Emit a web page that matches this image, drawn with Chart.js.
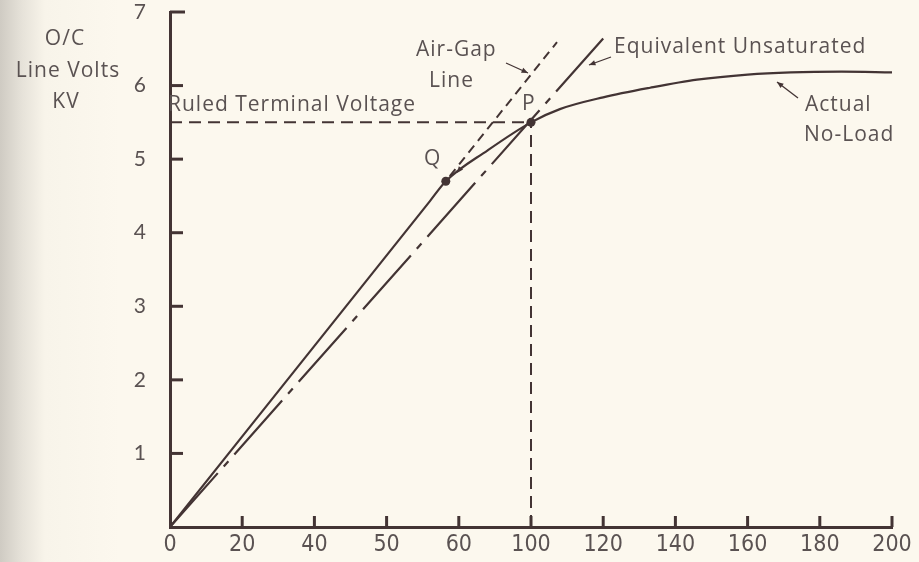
<!DOCTYPE html>
<html>
<head>
<meta charset="utf-8">
<script src="https://cdn.jsdelivr.net/npm/chart.js@4/dist/chart.umd.min.js"></script>
<style>
  html, body { margin: 0; padding: 0; }
  body {
    width: 919px; height: 562px; overflow: hidden;
    background: linear-gradient(to right, #cfcbc3 0px, #e6e2d9 22px, #f8f4ea 45px, #fcf8ee 120px, #fcf8ee 100%);
  }
  canvas { display: block; }
</style>
</head>
<body>
<canvas id="myChart" width="919" height="562"></canvas>
<script>
// tick labels as printed (the x labels are not evenly numbered in the original)
const xTickLabels = ['0', '20', '40', '50', '60', '100', '120', '140', '160', '180', '200'];
const yTickLabels = ['', '1', '2', '3', '4', '5', '6', '7'];

// actual no-load curve
const noLoadX = [0, 72, 76.4, 88, 100, 108, 120, 133, 146, 160, 172, 186, 200];
const noLoadY = [0, 4.43, 4.70, 5.12, 5.50, 5.68, 5.84, 5.97, 6.08, 6.15, 6.18, 6.19, 6.18];

// air-gap line (extension of the straight part)
const airGapX = [77.5, 107.2];
const airGapY = [4.77, 6.59];

// equivalent unsaturated line through P
const equivX = [0, 120];
const equivY = [0, 6.64];

// rated terminal voltage guide lines
const ruledX = [0, 100];
const ruledY = [5.5, 5.5];
const vertX = [100, 100];
const vertY = [0, 5.5];

// points Q and P
const markX = [76.4, 100];
const markY = [4.70, 5.50];

const ink = '#433434';
const textCol = '#5a5252';

function pts(xs, ys) {
  return xs.map((x, i) => ({ x: x, y: ys[i] }));
}

const ctx = document.getElementById('myChart');

const insideTicks = {
  id: 'insideTicks',
  afterDraw(chart) {
    const c = chart.ctx;
    const xs = chart.scales.x, ys = chart.scales.y;
    c.save();
    c.strokeStyle = ink;
    c.lineWidth = 3;
    c.lineCap = 'butt';
    for (let v = 1; v <= 7; v++) {
      const py = ys.getPixelForValue(v);
      c.beginPath();
      c.moveTo(xs.left, py);
      c.lineTo(xs.left + (v === 7 ? 15 : 13), py);
      c.stroke();
    }
    for (let v = 20; v <= 200; v += 20) {
      const px = xs.getPixelForValue(v);
      c.beginPath();
      c.moveTo(px, ys.bottom);
      c.lineTo(px, ys.bottom - 11);
      c.stroke();
    }
    c.restore();
  }
};

const labels = {
  id: 'labels',
  afterDraw(chart) {
    const c = chart.ctx;
    c.save();
    c.fillStyle = textCol;
    c.textBaseline = 'middle';
    c.font = '21px "Open Sans", Lato, sans-serif';
    c.letterSpacing = '1px';
    c.textAlign = 'center';
    c.fillText('O/C', 65, 39);
    c.fillText('Line Volts', 68, 71);
    c.fillText('KV', 66, 102);

    c.textAlign = 'left';
    c.fillText('Ruled Terminal Voltage', 168, 105);
    c.fillText('Air-Gap', 416, 50);
    c.fillText('Line', 429, 81);
    c.fillText('Equivalent Unsaturated', 614, 47);
    c.fillText('Actual', 805, 105);
    c.fillText('No-Load', 804, 135);
    c.fillText('Q', 424, 159);
    c.fillText('P', 522, 104);

    // small arrows
    c.strokeStyle = ink;
    c.fillStyle = ink;
    c.lineWidth = 1.3;
    function head(x2, y2, a) {
      c.beginPath();
      c.moveTo(x2, y2);
      c.lineTo(x2 - 7 * Math.cos(a - 0.4), y2 - 7 * Math.sin(a - 0.4));
      c.lineTo(x2 - 7 * Math.cos(a + 0.4), y2 - 7 * Math.sin(a + 0.4));
      c.closePath();
      c.fill();
    }
    function arrow(x1, y1, x2, y2) {
      c.beginPath();
      c.moveTo(x1, y1);
      c.lineTo(x2, y2);
      c.stroke();
      head(x2, y2, Math.atan2(y2 - y1, x2 - x1));
    }
    arrow(506, 63, 528, 73);
    arrow(611, 57, 589, 65);
    arrow(798, 98, 777, 82);
    head(457, 173, Math.atan2(1.29, -1));
    c.restore();
  }
};

new Chart(ctx, {
  type: 'scatter',
  data: {
    datasets: [
      {
        label: 'Actual No-Load',
        data: pts(noLoadX, noLoadY),
        showLine: true,
        borderColor: ink,
        borderWidth: 2.2,
        pointRadius: 0,
        cubicInterpolationMode: 'monotone'
      },
      {
        label: 'Air-Gap Line',
        data: pts(airGapX, airGapY),
        showLine: true,
        borderColor: ink,
        borderWidth: 2,
        borderDash: [9, 6],
        pointRadius: 0
      },
      {
        label: 'Equivalent Unsaturated',
        data: pts(equivX, equivY),
        showLine: true,
        borderColor: ink,
        borderWidth: 2.2,
        borderDash: [72, 9, 7, 9],
        pointRadius: 0
      },
      {
        label: 'Ruled Terminal Voltage',
        data: pts(ruledX, ruledY),
        showLine: true,
        borderColor: ink,
        borderWidth: 2,
        borderDash: [12, 7],
        pointRadius: 0
      },
      {
        label: 'P drop',
        data: pts(vertX, vertY),
        showLine: true,
        borderColor: ink,
        borderWidth: 2,
        borderDash: [12, 7],
        pointRadius: 0
      },
      {
        label: 'Q, P',
        data: pts(markX, markY),
        showLine: false,
        pointRadius: 4.5,
        pointBackgroundColor: ink,
        pointBorderWidth: 0
      }
    ]
  },
  options: {
    responsive: false,
    animation: false,
    devicePixelRatio: 1,
    layout: { padding: { top: 12, right: 27, left: 0, bottom: 0 } },
    plugins: {
      legend: { display: false },
      tooltip: { enabled: false }
    },
    scales: {
      x: {
        type: 'linear',
        min: 0,
        max: 200,
        afterFit: (s) => { s.height = 35; s.paddingLeft = 0; s.paddingRight = 0; },
        grid: { display: true, drawOnChartArea: false, drawTicks: false },
        border: { display: true, color: ink, width: 3 },
        ticks: {
          stepSize: 20,
          padding: 4,
          color: textCol,
          font: { family: '"Liberation Sans Narrow", "DejaVu Sans Condensed", sans-serif', size: 23 },
          callback: (v) => xTickLabels[Math.round(v / 20)]
        }
      },
      y: {
        min: 0,
        max: 7,
        afterFit: (s) => { s.width = 170; s.paddingTop = 0; s.paddingBottom = 0; },
        grid: { display: true, drawOnChartArea: false, drawTicks: false },
        border: { display: true, color: ink, width: 3 },
        ticks: {
          stepSize: 1,
          padding: 24,
          color: textCol,
          font: { family: 'Lato, "Open Sans", sans-serif', size: 21 },
          callback: (v) => yTickLabels[v]
        }
      }
    }
  },
  plugins: [insideTicks, labels]
});
</script>
</body>
</html>
